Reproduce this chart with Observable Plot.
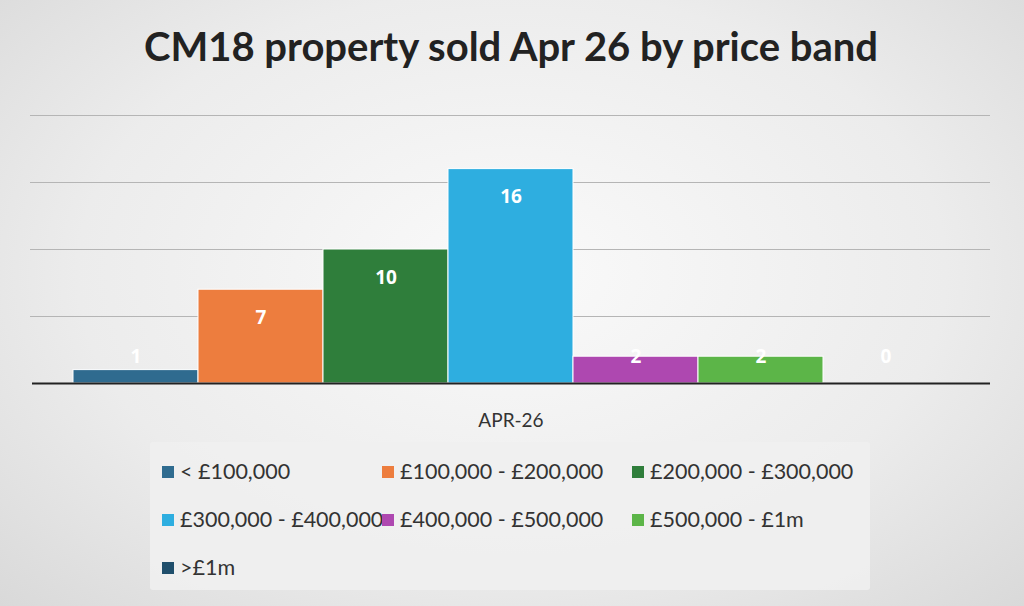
<!DOCTYPE html>
<html><head><meta charset="utf-8">
<script src="https://cdn.jsdelivr.net/npm/d3@7"></script>
<script src="https://cdn.jsdelivr.net/npm/@observablehq/plot@0.6"></script>
<style>
body{margin:0;width:1024px;height:606px;overflow:hidden;font-family:Lato,"Open Sans",sans-serif;
background:radial-gradient(ellipse at 50% 45%,#fafafa 0%,#ececec 60%,#d9d9d9 100%);position:relative}
#title{position:absolute;top:22px;left:0;width:1022px;text-align:center;font-size:40px;font-weight:700;color:#222}
#chart{position:absolute;top:100px;left:0}
#cat{position:absolute;top:408px;left:0;width:1022px;text-align:center;font-size:19px;color:#333}
#legend{position:absolute;left:150px;top:442px;width:720px;height:148px;background:rgba(240,240,240,0.9);border-radius:3px}
.it{position:absolute;font-size:21.5px;color:#333;white-space:nowrap}
.sw{display:inline-block;width:12px;height:12px;margin-right:6px;vertical-align:1px}
</style></head><body>
<div id="title">CM18 property sold Apr 26 by price band</div>
<div id="chart"></div>
<div id="cat"></div>
<div id="legend"></div>
<script>
const bands = ["< £100,000","£100,000 - £200,000","£200,000 - £300,000","£300,000 - £400,000","£400,000 - £500,000","£500,000 - £1m",">£1m"];
const counts = [1,7,10,16,2,2,0];
const colors = ["#2f6b8f","#ed7d3e","#2f7e3b","#2eaee0","#ae48b0","#5cb548","#1f4e6b"];
const category = "APR-26";
const data = bands.map((b,i)=>({band:b,v:counts[i]}));
const chart = Plot.plot({
  width:1024,height:330,marginLeft:72,marginRight:76,marginTop:15,marginBottom:47,
  x:{domain:bands,padding:0,axis:null},
  y:{domain:[0,20],axis:null},
  color:{domain:bands,range:colors},
  marks:[
    Plot.gridY([5,10,15,20],{stroke:"#b5b5b5",strokeOpacity:1,insetLeft:-42,insetRight:-42}),
    Plot.barY(data,{x:"band",y:"v",fill:"band",stroke:"white",strokeWidth:1}),
    Plot.text(data,{x:"band",y:d=>Math.max(d.v-2.1,1.95),text:d=>String(d.v),fill:"white",fontWeight:"bold",fontSize:19}),
    Plot.ruleY([0],{stroke:"#222",strokeWidth:2,insetLeft:-40,insetRight:-42}),
    Plot.ruleX([bands[0]],{x:"band",y1:0,y2:-0.7,dx:-72+32-0.5,stroke:"#222",strokeWidth:2}),
    Plot.ruleX([bands[6]],{x:"band",y1:0,y2:-0.7,dx:42,stroke:"#222",strokeWidth:2})
  ]
});
document.getElementById("chart").appendChild(chart);
document.getElementById("cat").textContent=category;
const pos=[[12,16],[232,16],[482,16],[12,64],[232,64],[482,64],[12,112]];
const lg=document.getElementById("legend");
bands.forEach((b,i)=>{const d=document.createElement("div");d.className="it";
d.style.left=pos[i][0]+"px";d.style.top=pos[i][1]+"px";
d.innerHTML=`<span class="sw" style="background:${colors[i]}"></span>`;d.appendChild(document.createTextNode(b));lg.appendChild(d);});
</script></body></html>
